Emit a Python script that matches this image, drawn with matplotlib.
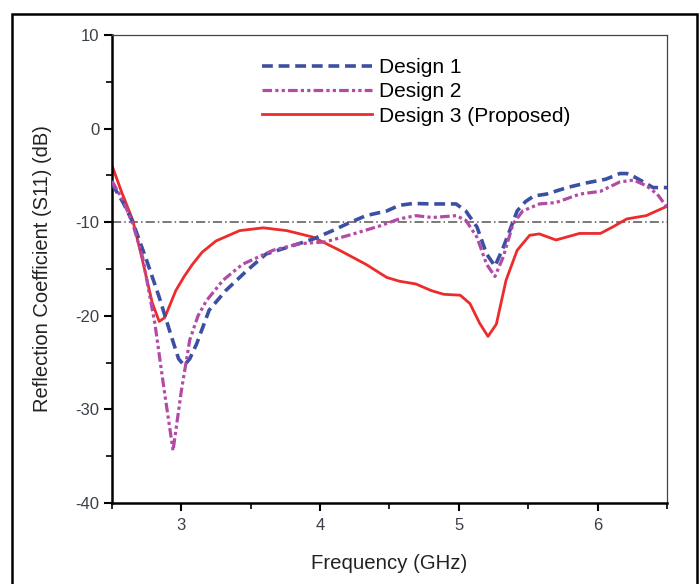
import matplotlib
matplotlib.use("Agg")
import matplotlib.pyplot as plt
from matplotlib.patches import Rectangle
from matplotlib.ticker import MultipleLocator, FuncFormatter

plt.rcParams['font.family'] = ['Liberation Sans', 'DejaVu Sans']
plt.rcParams['axes.unicode_minus'] = False

# Design 1
f1 = [2.50, 2.58, 2.65, 2.75, 2.84, 2.93, 2.98, 3.02, 3.06, 3.11, 3.20, 3.32, 3.47, 3.61, 3.76, 3.95, 4.09, 4.19,
      4.33, 4.48, 4.57, 4.67, 4.81, 4.98, 5.05, 5.13, 5.20, 5.26, 5.32, 5.42, 5.48, 5.54, 5.63, 5.78,
      5.92, 6.06, 6.16, 6.21, 6.27, 6.33, 6.40, 6.50]
s1 = [-5.9, -7.9, -10.0, -14.1, -18.0, -22.3, -24.6, -25.3, -24.6, -23.0, -19.4, -17.3, -15.2, -13.4, -12.7, -11.8, -10.9, -10.2,
      -9.3, -8.8, -8.2, -8.0, -8.05, -8.05, -8.8, -10.5, -13.4, -14.7, -12.7, -8.8, -7.8, -7.2, -7.0, -6.3,
      -5.8, -5.4, -4.8, -4.8, -5.2, -5.7, -6.3, -6.3]

# Design 2
f2 = [2.50, 2.58, 2.65, 2.72, 2.81, 2.87, 2.94, 3.00, 3.06, 3.12, 3.18, 3.30, 3.44, 3.66, 3.85, 4.04, 4.24,
      4.43, 4.57, 4.69, 4.81, 4.98, 5.05, 5.13, 5.20, 5.26, 5.32, 5.39, 5.46, 5.58, 5.70, 5.87,
      6.02, 6.16, 6.26, 6.35, 6.43, 6.50]
s2 = [-5.6, -7.7, -10.2, -13.7, -20.9, -27.3, -34.4, -28.0, -22.6, -20.0, -18.4, -16.2, -14.5, -13.0, -12.3, -12.1, -11.25,
      -10.4, -9.65, -9.3, -9.5, -9.3, -9.8, -11.6, -14.5, -15.8, -13.7, -10.2, -8.8, -8.05, -7.9, -7.0,
      -6.7, -5.7, -5.5, -6.1, -7.0, -8.4]

# Design 3 (Proposed)
f3 = [2.50, 2.57, 2.65, 2.72, 2.79, 2.84, 2.88, 2.96, 3.02, 3.08, 3.15, 3.25, 3.42, 3.59, 3.76, 3.95, 4.14, 4.33, 4.48,
      4.57, 4.69, 4.80, 4.89, 5.01, 5.08, 5.15, 5.21, 5.27, 5.34, 5.42, 5.51, 5.58, 5.70, 5.87, 6.02,
      6.11, 6.21, 6.35, 6.50]
s3 = [-3.95, -6.8, -9.8, -14.1, -18.6, -20.6, -20.2, -17.3, -15.8, -14.5, -13.2, -12.0, -10.9, -10.6, -10.9, -11.6, -13.0, -14.5, -15.9,
      -16.3, -16.6, -17.3, -17.7, -17.8, -18.7, -20.8, -22.2, -20.9, -16.2, -13.0, -11.4, -11.25, -11.9, -11.2, -11.2,
      -10.5, -9.65, -9.3, -8.3]

ref_level = -10
labels = ["Design 1", "Design 2", "Design 3 (Proposed)"]

fig = plt.figure(figsize=(6.99, 5.84), dpi=100)
ax = fig.add_axes([112/699, 1-503/584, (667-112)/699, (503-35)/584])

ax.axhline(ref_level, color='#555555', lw=1.1, ls=(0, (6, 2, 1, 2)), zorder=1)
ax.plot(f1, s1, color='#3b4fa3', lw=2.6, ls=(0, (3, 1.6)), label=labels[0], zorder=3)
ax.plot(f2, s2, color='#b24aa6', lw=2.3, ls=(0, (3, 1, 1, 1, 1, 1)), label=labels[1], zorder=3)
ax.plot(f3, s3, color='#ee2b2b', lw=2.0, ls='-', label=labels[2], zorder=2)

ax.set_xlim(2.5, 6.5)
ax.set_ylim(-40, 10)
ax.xaxis.set_major_locator(MultipleLocator(1))
ax.xaxis.set_minor_locator(MultipleLocator(0.5))
ax.yaxis.set_major_locator(MultipleLocator(10))
ax.yaxis.set_minor_locator(MultipleLocator(5))
ax.yaxis.set_major_formatter(FuncFormatter(lambda v, p: f"{v:.0f}"))
ax.xaxis.set_major_formatter(FuncFormatter(lambda v, p: f"{v:.0f}"))
ax.tick_params(which='major', direction='out', length=6, width=1.5, labelsize=12, pad=3,
               labelcolor='#3a3f4a')
ax.tick_params(which='minor', direction='out', length=4, width=1.2)
ax.tick_params(axis='x', which='major', pad=5)
ax.tick_params(top=False, right=False, which='both')
ax.spines['left'].set_linewidth(1.8)
ax.spines['bottom'].set_linewidth(1.8)
ax.spines['top'].set_linewidth(0.9)
ax.spines['right'].set_linewidth(0.9)
ax.spines['top'].set_color('#444444')
ax.spines['right'].set_color('#444444')

ax.set_xlabel("Frequency (GHz)", fontsize=14.7, labelpad=15, color='#222222')
ax.set_ylabel("Reflection Coefficient (S11) (dB)", fontsize=14.5, labelpad=17, color='#222222')

leg = ax.legend(loc='upper left', bbox_to_anchor=(0.27, 0.951), frameon=False, fontsize=15,
                handlelength=5.3, handletextpad=0.3, labelspacing=0.26, borderaxespad=0, borderpad=0)

fig.patches.append(Rectangle((12/699, -0.02), (697-12)/699, 1-14/584+0.02, transform=fig.transFigure,
                             fill=False, edgecolor='black', lw=1.8))

fig.savefig("out.png", dpi=100)
